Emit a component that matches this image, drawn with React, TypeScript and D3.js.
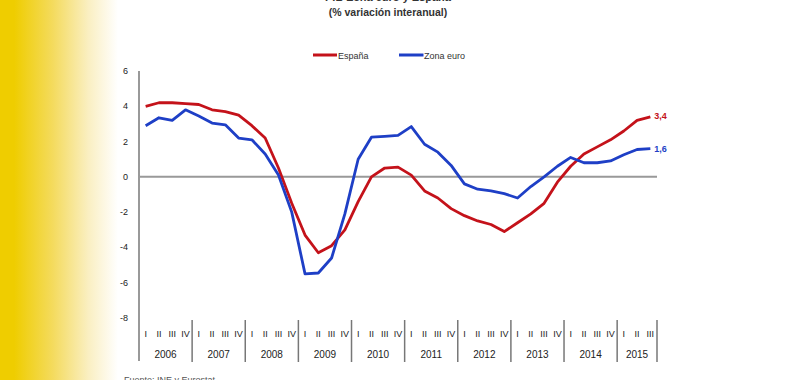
import React from "react";
import * as d3 from "d3";

const years = ["2006", "2007", "2008", "2009", "2010", "2011", "2012", "2013", "2014", "2015"];
const quartersPerYear = [4, 4, 4, 4, 4, 4, 4, 4, 4, 3];
const romanLabels = ["I", "II", "III", "IV"];
const yTicks = [6, 4, 2, 0, -2, -4, -6, -8];

const espana = [
  4.0, 4.2, 4.2, 4.15,
  4.1, 3.8, 3.7, 3.5,
  2.9, 2.2, 0.5, -1.5,
  -3.3, -4.3, -3.9, -3.0,
  -1.4, 0.0, 0.5, 0.55,
  0.1, -0.8, -1.2, -1.8,
  -2.2, -2.5, -2.7, -3.1,
  -2.6, -2.1, -1.5, -0.3,
  0.6, 1.3, 1.7, 2.1,
  2.6, 3.2, 3.4,
];
const zonaEuro = [
  2.9, 3.35, 3.2, 3.8,
  3.45, 3.05, 2.95, 2.2,
  2.1, 1.3, 0.1, -2.0,
  -5.5, -5.45, -4.6, -2.1,
  1.0, 2.25, 2.3, 2.35,
  2.85, 1.85, 1.4, 0.65,
  -0.4, -0.7, -0.8, -0.95,
  -1.2, -0.55, 0.0, 0.6,
  1.1, 0.8, 0.8, 0.9,
  1.25, 1.55, 1.6,
];
const seriesNames = ["España", "Zona euro"];
const lastLabels = ["3,4", "1,6"];

const RED = "#c4121a";
const BLUE = "#1e3fc6";
const FONT = "'Liberation Sans', Arial, sans-serif";

export default function App() {
  const quarters: { year: number; q: number; key: string }[] = [];
  years.forEach((y, yi) => {
    for (let q = 0; q < quartersPerYear[yi]; q++) quarters.push({ year: yi, q, key: `${y}-${q}` });
  });

  const x = d3.scaleBand<string>().domain(quarters.map((d) => d.key)).range([139, 657]).padding(0);
  const y = d3.scaleLinear().domain([-8, 6]).range([318, 71]);
  const cx = (i: number) => (x(quarters[i].key) as number) + x.bandwidth() / 2;

  const line = d3
    .line<number>()
    .x((_, i) => cx(i))
    .y((d) => y(d));

  const yearStarts: number[] = [];
  let idx = 0;
  years.forEach((_, yi) => {
    yearStarts.push(idx);
    idx += quartersPerYear[yi];
  });
  const yearBounds = yearStarts.map((s) => x(quarters[s].key) as number);
  const endX = 657;

  const lastI = quarters.length - 1;

  return (
    <svg
      width={800}
      height={380}
      style={{ position: "absolute", left: 0, top: 0, background: "#fff" }}
      fontFamily={FONT}
    >
      <defs>
        <linearGradient id="yel" x1="0" x2="1" y1="0" y2="0">
          <stop offset="0" stopColor="#efcd00" />
          <stop offset="0.12" stopColor="#efcd00" />
          <stop offset="0.45" stopColor="#f4db5e" />
          <stop offset="0.75" stopColor="#faefc2" />
          <stop offset="1" stopColor="#ffffff" />
        </linearGradient>
      </defs>
      <rect x={0} y={0} width={800} height={380} fill="#fff" />
      <rect x={0} y={0} width={118} height={380} fill="url(#yel)" />

      <text x={388} y={1} textAnchor="middle" fontSize={11} fontWeight="bold" fill="#333">
        PIB Zona euro y España
      </text>
      <text x={388} y={16} textAnchor="middle" fontSize={10.5} fontWeight="bold" fill="#333">
        (% variación interanual)
      </text>

      <line x1={313} x2={337} y1={55} y2={55} stroke={RED} strokeWidth={3} />
      <text x={338} y={58.5} fontSize={9} fill="#333">{seriesNames[0]}</text>
      <line x1={399} x2={423.5} y1={55} y2={55} stroke={BLUE} strokeWidth={3} />
      <text x={424} y={58.5} fontSize={9} fill="#333">{seriesNames[1]}</text>

      <line x1={139} x2={139} y1={71} y2={361} stroke="#777" strokeWidth={1.5} />
      {yTicks.map((t) => (
        <text key={t} x={128} y={y(t) + 3} textAnchor="end" fontSize={9} fill="#222">
          {t}
        </text>
      ))}

      <line x1={139} x2={endX} y1={y(0)} y2={y(0)} stroke="#999" strokeWidth={2} />

      {yearBounds.slice(1).concat([endX]).map((b, i) => (
        <line key={i} x1={b} x2={b} y1={320} y2={362} stroke="#777" strokeWidth={1.5} />
      ))}

      {quarters.map((d, i) => (
        <text key={d.key} x={cx(i)} y={337} textAnchor="middle" fontSize={9} fill="#222">
          {romanLabels[d.q]}
        </text>
      ))}

      {years.map((yr, yi) => {
        const s = yearBounds[yi];
        const e = yi + 1 < years.length ? yearBounds[yi + 1] : endX;
        return (
          <text key={yr} x={(s + e) / 2} y={358} textAnchor="middle" fontSize={10} fill="#222">
            {yr}
          </text>
        );
      })}

      <path d={line(espana) as string} fill="none" stroke={RED} strokeWidth={2.8} strokeLinejoin="round" />
      <path d={line(zonaEuro) as string} fill="none" stroke={BLUE} strokeWidth={2.8} strokeLinejoin="round" />

      <text x={cx(lastI) + 4} y={y(espana[lastI]) + 2} fontSize={9} fontWeight="bold" fill={RED}>
        {lastLabels[0]}
      </text>
      <text x={cx(lastI) + 4} y={y(zonaEuro[lastI]) + 3} fontSize={9} fontWeight="bold" fill={BLUE}>
        {lastLabels[1]}
      </text>

      <text x={124} y={383} fontSize={9} fill="#555">Fuente: INE y Eurostat</text>
    </svg>
  );
}
